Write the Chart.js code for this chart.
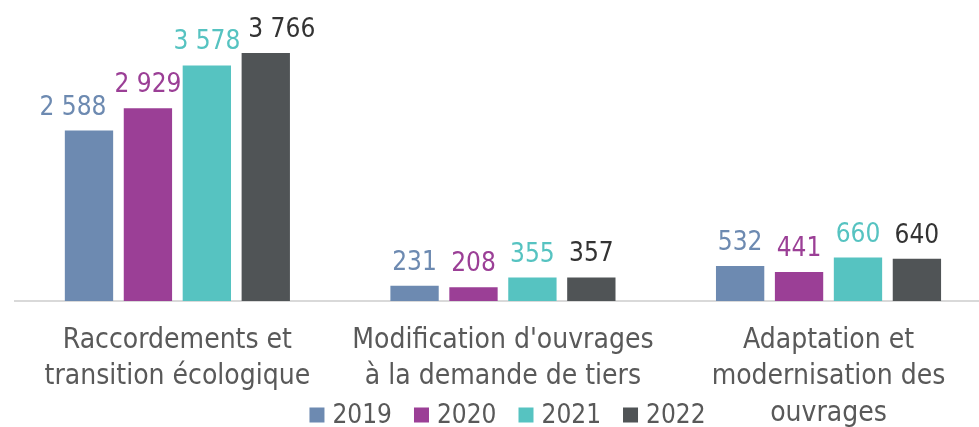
<!DOCTYPE html>
<html>
<head>
<meta charset="utf-8">
<script src="https://cdn.jsdelivr.net/npm/chart.js@4/dist/chart.umd.min.js"></script>
<style>
  html, body { margin: 0; padding: 0; background: #fff; overflow: hidden; }
  #wrap { position: relative; width: 992px; height: 427px; }
</style>
</head>
<body>
<div id="wrap"><canvas id="chartInvest"></canvas></div>
<script>
var categories = [
  ['Raccordements et', 'transition écologique'],
  ["Modification d'ouvrages", 'à la demande de tiers'],
  ['Adaptation et', 'modernisation des', 'ouvrages']
];
var years = ['2019', '2020', '2021', '2022'];
var values2019 = [2588, 231, 532];
var values2020 = [2929, 208, 441];
var values2021 = [3578, 355, 660];
var values2022 = [3766, 357, 640];
var barColors = ['#6d8ab1', '#9b3f96', '#56c3c1', '#505456'];
var labelColors = ['#6d8ab1', '#9b3f96', '#56c3c1', '#333333'];

var FONT = '"DejaVu Sans Condensed", "DejaVu Sans", sans-serif';

function fmt(v) {
  return String(v).replace(/\B(?=(\d{3})+(?!\d))/g, ' ');
}

// value labels above bars, nudged sideways when they collide
var valueLabels = {
  id: 'valueLabels',
  afterDatasetsDraw: function(chart) {
    var ctx = chart.ctx;
    var n = chart.data.datasets.length;
    ctx.save();
    ctx.font = '26px ' + FONT;
    ctx.textAlign = 'center';
    ctx.textBaseline = 'alphabetic';
    chart.data.labels.forEach(function(_, i) {
      var items = [];
      for (var d = 0; d < n; d++) {
        var bar = chart.getDatasetMeta(d).data[i];
        var txt = fmt(chart.data.datasets[d].data[i]);
        var w = ctx.measureText(txt).width;
        var base = bar.y - 16;
        items.push({ txt: txt, x: bar.x, y: base + 4, w: w, top: base - 26, base: base, color: labelColors[d] });
      }
      for (var j = 1; j < n; j++) {
        var a = items[j - 1], b = items[j];
        var vert = !(a.y < b.top || b.y < a.top);
        var overlap = (a.x + a.w / 2 + 8) - (b.x - b.w / 2);
        if (vert && overlap > 0) {
          if (j - 1 < n / 2 - 1) a.x -= overlap;
          else if (j > n / 2) b.x += overlap;
          else { a.x -= overlap / 2; b.x += overlap / 2; }
        }
      }
      items.forEach(function(it) {
        ctx.fillStyle = it.color;
        ctx.fillText(it.txt, it.x, it.base);
      });
    });
    ctx.restore();
  }
};

// legend drawn low, over the axis labels as in the original
var bottomLegend = {
  id: 'bottomLegend',
  afterDraw: function(chart) {
    var ctx = chart.ctx;
    ctx.save();
    ctx.font = '26px ' + FONT;
    ctx.textBaseline = 'middle';
    var box = 15, gap = 8, spacing = 22;
    var total = 0;
    years.forEach(function(y) { total += box + gap + ctx.measureText(y).width + spacing; });
    total -= spacing;
    var x = 507.5 - total / 2;
    var cy = 415;
    years.forEach(function(y, k) {
      ctx.fillStyle = barColors[k];
      ctx.fillRect(x, cy - box / 2, box, box);
      x += box + gap;
      ctx.fillStyle = '#595959';
      ctx.fillText(y, x, cy + 1);
      x += ctx.measureText(y).width + spacing;
    });
    ctx.restore();
  }
};

new Chart(document.getElementById('chartInvest'), {
  type: 'bar',
  data: {
    labels: categories,
    datasets: [
      { label: years[0], data: values2019, backgroundColor: barColors[0] },
      { label: years[1], data: values2020, backgroundColor: barColors[1] },
      { label: years[2], data: values2021, backgroundColor: barColors[2] },
      { label: years[3], data: values2022, backgroundColor: barColors[3] }
    ]
  },
  options: {
    responsive: true,
    maintainAspectRatio: false,
    animation: false,
    layout: { padding: { top: 37.6, left: 14.6, right: 0.7, bottom: 0 } },
    datasets: {
      bar: { categoryPercentage: 0.724, barPercentage: 0.82 }
    },
    plugins: {
      legend: { display: false },
      tooltip: { enabled: false }
    },
    scales: {
      y: { display: false, min: 0, max: 4000 },
      x: {
        grid: { display: false },
        border: { display: true, color: '#d9d9d9', width: 2 },
        ticks: {
          color: '#595959',
          padding: 14,
          maxRotation: 0,
          autoSkip: false,
          font: { family: FONT, size: 28, lineHeight: 1.29 }
        },
        afterFit: function(scale) { scale.height = 126; }
      }
    }
  },
  plugins: [valueLabels, bottomLegend]
});
</script>
</body>
</html>
